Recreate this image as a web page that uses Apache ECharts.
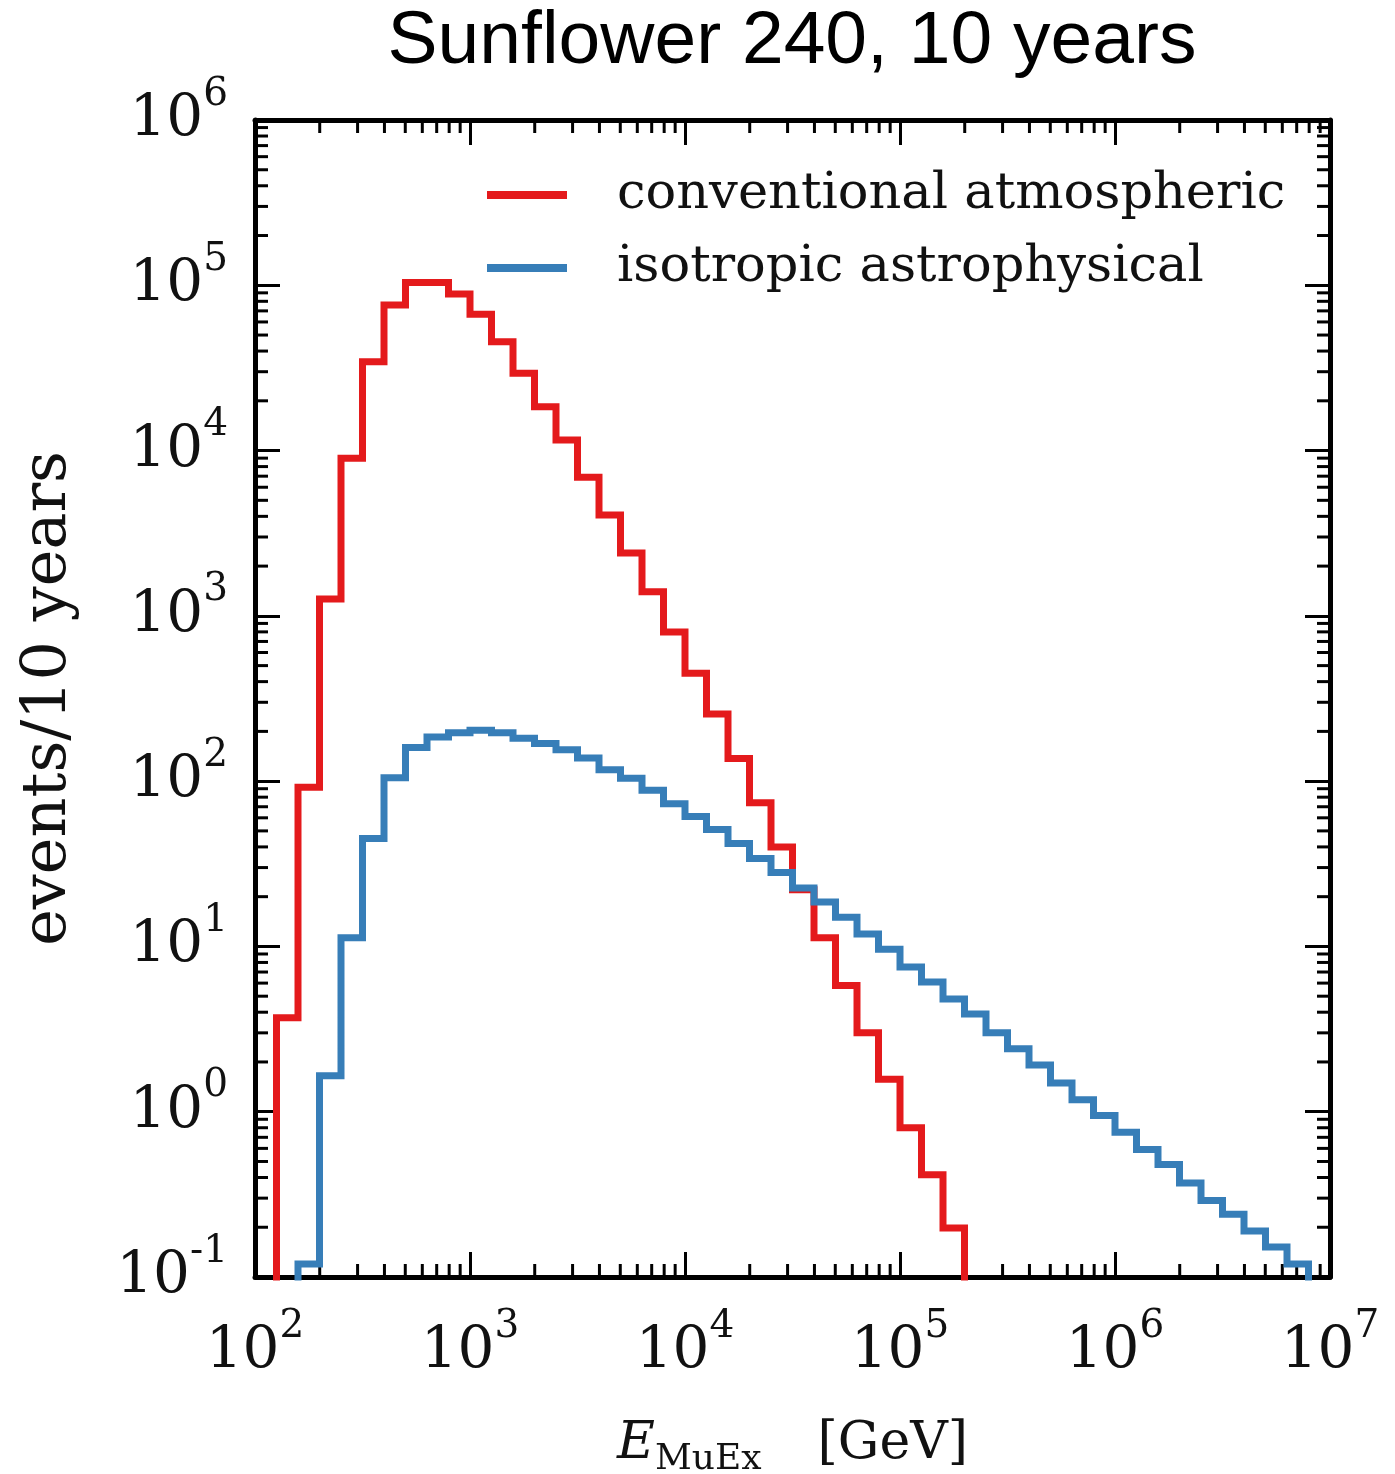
<!DOCTYPE html>
<html>
<head>
<meta charset="utf-8">
<title>Sunflower 240, 10 years</title>
<script src="https://cdn.jsdelivr.net/npm/echarts@6/dist/echarts.min.js"></script>
<style>
  html, body { margin: 0; padding: 0; background: #fff; }
  #chart { width: 1395px; height: 1474px; }
</style>
</head>
<body>
<div id="chart"></div>
<script>
// histogram bins, 0.1 wide in log10(E / GeV)
const binWidthLog = 0.1;

// conventional atmospheric, first bin starts at 10^2.1 GeV
const conventionalStartLog = 2.1;
const conventionalCounts = [
  3.7, 92, 1265, 9000, 34500, 76000, 104000, 104000, 88500, 66700,
  45600, 29400, 18400, 11600, 6900, 4070, 2400, 1400, 800, 450,
  255, 137, 74, 40, 22, 11.3, 5.8, 3.0, 1.57, 0.80,
  0.415, 0.198
];

// isotropic astrophysical, first bin starts at 10^2.2 GeV
const astroStartLog = 2.2;
const astroCounts = [
  0.12, 1.65, 11.3, 45, 105, 160, 185, 196, 203, 196,
  182, 169, 155, 138, 117, 104, 88, 73, 61, 51,
  42, 34, 28, 22.6, 18.6, 15, 11.9, 9.6, 7.5, 6.1,
  4.8, 3.9, 3.0, 2.4, 1.92, 1.49, 1.18, 0.95, 0.75, 0.59,
  0.48, 0.37, 0.29, 0.24, 0.19, 0.152, 0.12
];

const seriesNames = ["conventional atmospheric", "isotropic astrophysical"];
const seriesColors = ["#e41a1c", "#377eb8"];

const xRange = [1e2, 1e7];
const yRange = [1e-1, 1e6];
const xDecades = [2, 3, 4, 5, 6];
const yDecades = [-1, 0, 1, 2, 3, 4, 5];
const minorMultipliers = [2, 3, 4, 5, 6, 7, 8, 9];

const floorValue = 1e-3; // below the y range, gets clipped

const serif = "DejaVu Serif";
const majorLen = 25;
const minorLen = 13;

function stepPoints(startLog, counts) {
  const pts = [[Math.pow(10, startLog), floorValue]];
  counts.forEach((c, i) => {
    pts.push([Math.pow(10, startLog + i * binWidthLog), c]);
  });
  const endX = Math.pow(10, startLog + counts.length * binWidthLog);
  pts.push([endX, counts[counts.length - 1]]);
  pts.push([endX, floorValue]);
  return pts;
}

function minorValues(decades) {
  const out = [];
  decades.forEach(d => minorMultipliers.forEach(m => out.push(m * Math.pow(10, d))));
  return out;
}

function powLabel(v) {
  const e = Math.round(Math.log10(v));
  return "{b|10}{s|" + e + "}";
}

const labelRich = {
  b: { fontFamily: serif, fontSize: 58, lineHeight: 90, color: "#111" },
  s: { fontFamily: serif, fontSize: 39, lineHeight: 20, color: "#111", verticalAlign: "top" }
};

const tickStyle = { color: "#000", width: 3 };

function makeAxis(pos, range, isY) {
  const main = pos === "bottom" || pos === "left";
  return {
    type: "log",
    logBase: 10,
    position: pos,
    min: range[0],
    max: range[1],
    splitNumber: isY ? 7 : 5,
    axisLine: { show: true, onZero: false, lineStyle: { color: "#000", width: 5 } },
    axisTick: { show: true, inside: true, length: majorLen, lineStyle: tickStyle },
    splitLine: { show: false },
    axisLabel: main ? {
      show: true,
      margin: isY ? 27 : 30,
      formatter: powLabel,
      rich: labelRich
    } : { show: false }
  };
}

const chart = echarts.init(document.getElementById("chart"));

const xAxisBottom = makeAxis("bottom", xRange, false);
xAxisBottom.name = "{e|E}{sub|MuEx}{u|[GeV]}";
xAxisBottom.nameLocation = "middle";
xAxisBottom.nameGap = 141;
xAxisBottom.nameTextStyle = {
  rich: {
    e: { fontFamily: serif, fontStyle: "italic", fontSize: 52, lineHeight: 60, color: "#111", verticalAlign: "top" },
    sub: { fontFamily: serif, fontSize: 36, lineHeight: 60, color: "#111", verticalAlign: "bottom", padding: [0, 56, 0, 0] },
    u: { fontFamily: serif, fontSize: 52, lineHeight: 60, color: "#111", verticalAlign: "top" }
  }
};

const yAxisLeft = makeAxis("left", yRange, true);
yAxisLeft.name = "events/10 years";
yAxisLeft.nameLocation = "middle";
yAxisLeft.nameGap = 171;
yAxisLeft.nameTextStyle = { fontFamily: serif, fontSize: 62, lineHeight: 70, color: "#111" };

const option = {
  animation: false,
  backgroundColor: "#fff",
  color: seriesColors,
  graphic: [{
    type: "text",
    x: 792,
    y: 42,
    style: {
      text: "Sunflower 240, 10 years",
      fontFamily: "Liberation Sans",
      fontSize: 75,
      fill: "#000",
      align: "center",
      verticalAlign: "middle"
    }
  }],
  grid: { left: 255, right: 65, top: 120, bottom: 197, containLabel: false, outerBoundsMode: "none" },
  legend: {
    left: 482,
    top: 160,
    orient: "vertical",
    icon: "rect",
    itemWidth: 80,
    itemHeight: 8,
    itemGap: 13,
    data: seriesNames,
    textStyle: { fontFamily: serif, fontSize: 51, lineHeight: 60, color: "#111", padding: [0, 0, 0, 45] }
  },
  xAxis: [xAxisBottom, makeAxis("top", xRange, false)],
  yAxis: [yAxisLeft, makeAxis("right", yRange, true)],
  series: [
    {
      name: seriesNames[0],
      type: "line",
      step: "end",
      showSymbol: false,
      symbol: "none",
      clip: true,
      lineStyle: { width: 7, color: seriesColors[0], join: "miter" },
      data: stepPoints(conventionalStartLog, conventionalCounts)
    },
    {
      name: seriesNames[1],
      type: "line",
      step: "end",
      showSymbol: false,
      symbol: "none",
      clip: true,
      lineStyle: { width: 7, color: seriesColors[1], join: "miter" },
      data: stepPoints(astroStartLog, astroCounts)
    },
    {
      // minor ticks on bottom and top edges
      type: "custom",
      silent: true,
      clip: false,
      data: minorValues(xDecades).map(v => [v, yRange[0]]),
      renderItem(params, api) {
        const cs = params.coordSys;
        const x = api.coord([api.value(0), yRange[0]])[0];
        const bottom = cs.y + cs.height;
        return {
          type: "group",
          children: [
            { type: "line", shape: { x1: x, y1: bottom, x2: x, y2: bottom - minorLen }, style: { stroke: "#000", lineWidth: 3 } },
            { type: "line", shape: { x1: x, y1: cs.y, x2: x, y2: cs.y + minorLen }, style: { stroke: "#000", lineWidth: 3 } }
          ]
        };
      }
    },
    {
      // minor ticks on left and right edges
      type: "custom",
      silent: true,
      clip: false,
      data: minorValues(yDecades).map(v => [xRange[0], v]),
      renderItem(params, api) {
        const cs = params.coordSys;
        const y = api.coord([xRange[0], api.value(1)])[1];
        const right = cs.x + cs.width;
        return {
          type: "group",
          children: [
            { type: "line", shape: { x1: cs.x, y1: y, x2: cs.x + minorLen, y2: y }, style: { stroke: "#000", lineWidth: 3 } },
            { type: "line", shape: { x1: right, y1: y, x2: right - minorLen, y2: y }, style: { stroke: "#000", lineWidth: 3 } }
          ]
        };
      }
    }
  ]
};

chart.setOption(option);
</script>
</body>
</html>
